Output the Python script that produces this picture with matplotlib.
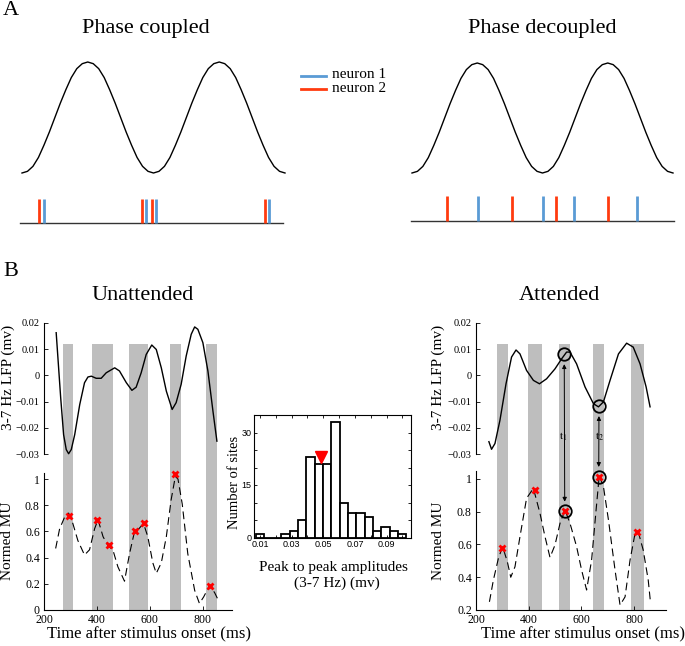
import matplotlib.pyplot as plt
from matplotlib.lines import Line2D
import numpy as np

plt.rcParams['font.family'] = ['Liberation Serif', 'DejaVu Serif']
plt.rcParams['mathtext.fontset'] = 'stix'

W, H = 685, 646
RED = '#FF3B0F'
BLUE = '#5A9BD5'
GREY = '#BEBEBE'

# ---- panel A: schematic oscillation, one trough-to-trough cycle (normalised)
wave_cycle = [0, 0.015, 0.06, 0.14, 0.25, 0.37, 0.50, 0.63, 0.75, 0.86, 0.94, 0.985, 1.0,
              0.985, 0.94, 0.86, 0.75, 0.63, 0.50, 0.37, 0.25, 0.14, 0.06, 0.015]
wave = wave_cycle + wave_cycle + [0]
wave_t = np.linspace(0, 500, len(wave))

# spike times (ms)
coupled_n1 = [46, 240, 259, 473]
coupled_n2 = [36, 232, 251, 466]
decoupled_n1 = [127, 251, 310, 430]
decoupled_n2 = [68, 192, 276, 375]

# ---- panel B: unattended
u_lfp_t = [246, 263, 274, 284, 293, 303, 316, 335, 353, 366, 379, 397, 416, 435, 467, 485,
           511, 532, 548, 567, 586, 607, 624, 643, 662, 684, 699, 718, 737, 756, 769, 781,
           800, 819, 838, 853]
u_lfp_v = [0.0163, -0.0085, -0.0226, -0.0283, -0.0299, -0.0283, -0.0226, -0.0111, -0.0028,
           -0.0006, -0.0003, -0.0011, -0.0011, 0.0010, 0.0029, 0.0017, -0.0028, -0.0057,
           -0.0045, 0.0010, 0.0080, 0.0116, 0.0099, 0.0029, -0.0060, -0.0130, -0.0104,
           -0.0034, 0.0074, 0.0157, 0.0185, 0.0176, 0.0125, 0.0017, -0.0136, -0.0251]
u_mu_t = [244, 259, 278, 293, 309, 328, 353, 372, 391, 404, 423, 442, 460, 479, 504, 523,
          542, 558, 576, 592, 611, 624, 643, 662, 680, 696, 706, 722, 743, 769, 787, 803,
          826, 845, 857]
u_mu_v = [0.47, 0.62, 0.71, 0.74, 0.66, 0.53, 0.42, 0.46, 0.62, 0.69, 0.56, 0.49, 0.46,
          0.33, 0.22, 0.43, 0.60, 0.62, 0.66, 0.56, 0.36, 0.28, 0.36, 0.56, 0.84, 1.02,
          1.00, 0.81, 0.43, 0.15, 0.05, 0.10, 0.19, 0.13, 0.08]
u_peak_t = [293, 400, 444, 542, 576, 696, 828]
u_peak_v = [0.72, 0.687, 0.496, 0.606, 0.667, 1.04, 0.183]
u_bars = [(272, 311), (382, 460), (521, 593), (675, 716), (810, 853)]

# ---- panel B: attended
a_lfp_t = [249, 259, 272, 291, 314, 335, 352, 367, 392, 418, 441, 468, 500, 525, 544, 557,
           582, 614, 646, 665, 684, 709, 741, 772, 797, 823, 846, 861]
a_lfp_v = [-0.0253, -0.0282, -0.0260, -0.0171, -0.0032, 0.0070, 0.0097, 0.0082, 0.0019,
           -0.0019, -0.0032, -0.0013, 0.0025, 0.0063, 0.0089, 0.0089, 0.0044, -0.0044,
           -0.0108, -0.0120, -0.0101, -0.0019, 0.0082, 0.0123, 0.0108, 0.0044, -0.0044,
           -0.0120]
a_mu_t = [251, 266, 285, 301, 319, 332, 348, 367, 392, 418, 443, 462, 481, 500, 519, 538,
          557, 582, 601, 620, 639, 656, 668, 684, 703, 728, 747, 766, 785, 804, 816, 835,
          854, 863]
a_mu_v = [0.25, 0.383, 0.515, 0.587, 0.495, 0.40, 0.464, 0.648, 0.882, 0.943, 0.79, 0.648,
          0.521, 0.597, 0.729, 0.81, 0.729, 0.587, 0.444, 0.322, 0.505, 0.81, 1.02, 0.953,
          0.75, 0.444, 0.23, 0.28, 0.505, 0.668, 0.678, 0.566, 0.383, 0.24]
a_peak_t = [299, 423, 537, 666, 810]
a_peak_v = [0.576, 0.933, 0.802, 1.014, 0.678]
a_bars = [(278, 322), (399, 449), (515, 557), (644, 687), (790, 839)]
a_lfp_circ_t = [535, 667]
a_lfp_circ_v = [0.008, -0.0118]

lfp_ticks = [-0.03, -0.02, -0.01, 0, 0.01, 0.02]
lfp_ticklabels = ['\u22120.03', '\u22120.02', '\u22120.01', '0', '0.01', '0.02']
time_ticks = [200, 400, 600, 800]
u_mu_ticks = [0, 0.2, 0.4, 0.6, 0.8, 1]
u_mu_ticklabels = ['0', '0.2', '0.4', '0.6', '0.8', '1']
a_mu_ticks = [0.2, 0.4, 0.6, 0.8, 1]
a_mu_ticklabels = ['0.2', '0.4', '0.6', '0.8', '1']

# ---- inset histogram
hist_centers = [0.0101, 0.0154, 0.0207, 0.0260, 0.0313, 0.0365, 0.0418, 0.0471, 0.0524,
                0.0577, 0.0629, 0.0682, 0.0735, 0.0788, 0.0841, 0.0893, 0.0946, 0.0999]
hist_counts = [1, 0, 0, 1, 2, 5, 23, 21, 21, 33, 10, 7, 7, 6, 2, 3, 2, 1]
hist_median = 0.0483
hist_xticks = [0.01, 0.02, 0.03, 0.04, 0.05, 0.06, 0.07, 0.08, 0.09, 0.10]
hist_xticklabels = ['0.01', '', '0.03', '', '0.05', '', '0.07', '', '0.09', '']
hist_yticks = [0, 5, 10, 15, 20, 25, 30]
hist_yticklabels = ['0', '', '', '15', '', '', '30']


fig = plt.figure(figsize=(W / 100, H / 100), dpi=100)


def px_axes(l, t, r, b):
    return fig.add_axes([l / W, 1 - b / H, (r - l) / W, (b - t) / H])


def ftext(x, y, s, **kw):
    return fig.text(x / W, 1 - y / H, s, **kw)


def wave_panel(box, raster_box, n1, n2):
    ax = px_axes(*box)
    ax.plot(wave_t, wave, color='k', lw=1, clip_on=False)
    ax.set_xlim(0, 500)
    ax.set_ylim(0, 1)
    ax.axis('off')
    ar = px_axes(*raster_box)
    ar.axhline(0, color='#333333', lw=1, clip_on=False)
    ar.vlines(n2, 0, 1, colors=RED, lw=2, clip_on=False)
    ar.vlines(n1, 0, 1, colors=BLUE, lw=2, clip_on=False)
    ar.set_xlim(0, 500)
    ar.set_ylim(0, 1)
    ar.axis('off')


wave_panel((22, 62, 285, 173), (20, 199, 283, 223), coupled_n1, coupled_n2)
wave_panel((412, 63, 673, 173), (411, 196, 674, 221), decoupled_n1, decoupled_n2)

ftext(3, 1, 'A', fontsize=16, va='top')
ftext(146, 28, 'Phase coupled', fontsize=16, ha='center', va='center')
ftext(542, 28, 'Phase decoupled', fontsize=16, ha='center', va='center')
fig.add_artist(Line2D([301 / W, 326 / W], [1 - 76 / H] * 2, color=BLUE, lw=2))
fig.add_artist(Line2D([301 / W, 326 / W], [1 - 89 / H] * 2, color=RED, lw=2))
ftext(332, 75, 'neuron 1', fontsize=11, va='center')
ftext(332, 88.5, 'neuron 2', fontsize=11, va='center')


def style_ax(ax, size):
    for s in ['top', 'right']:
        ax.spines[s].set_visible(False)
    ax.tick_params(direction='in', length=3, width=0.6, labelsize=size, pad=3)
    ax.set_facecolor('none')


def b_panel(x0, x1, xmax, bars, lfp_t, lfp_v, mu_t, mu_v, pk_t, pk_v,
            mu_top, mu_ylim, mu_ticks, mu_labels):
    bg = px_axes(x0, 344, x1, 610)
    for a, b in bars:
        bg.axvspan(a, b, color=GREY, lw=0)
    bg.set_xlim(200, xmax)
    bg.axis('off')

    al = px_axes(x0, 323, x1, 454)
    al.plot(lfp_t, lfp_v, color='k', lw=1, clip_on=False)
    al.set_xlim(200, xmax)
    al.set_ylim(-0.03, 0.02)
    style_ax(al, 7.5)
    al.spines['bottom'].set_visible(False)
    al.set_xticks([])
    al.set_yticks(lfp_ticks)
    al.set_yticklabels(lfp_ticklabels)

    am = px_axes(x0, mu_top, x1, 610)
    am.plot(mu_t, mu_v, color='k', lw=0.8, dashes=(7, 4), clip_on=False)
    am.plot(pk_t, pk_v, 'x', color='red', ms=5, mew=2, clip_on=False)
    am.set_xlim(200, xmax)
    am.set_ylim(*mu_ylim)
    style_ax(am, 8.5)
    am.set_yticks(mu_ticks)
    am.set_yticklabels(mu_labels)
    am.set_xticks(time_ticks)
    am.set_xticklabels([str(t) for t in time_ticks])
    return al, am


b_panel(44, 232, 910, u_bars, u_lfp_t, u_lfp_v, u_mu_t, u_mu_v, u_peak_t, u_peak_v,
        472.5, (0, 1.05), u_mu_ticks, u_mu_ticklabels)
al, am = b_panel(476, 665.6, 920, a_bars, a_lfp_t, a_lfp_v, a_mu_t, a_mu_v, a_peak_t, a_peak_v,
                 470.8, (0.2, 1.05), a_mu_ticks, a_mu_ticklabels)

al.plot(a_lfp_circ_t, a_lfp_circ_v, 'o', mfc='none', mec='k', ms=9, mew=1.3, clip_on=False)
am.plot(a_peak_t[2:4], a_peak_v[2:4], 'o', mfc='none', mec='k', ms=9, mew=1.3, clip_on=False)
for i, j in [(0, 2), (1, 3)]:
    am.annotate('', xy=(a_peak_t[j], a_peak_v[j]), xycoords='data',
                xytext=(a_lfp_circ_t[i], a_lfp_circ_v[i]), textcoords=al.transData,
                arrowprops=dict(arrowstyle='<|-|>', color='k', lw=0.7, shrinkA=7, shrinkB=7,
                                mutation_scale=6))
ftext(563, 437, r'$\mathrm{t}_1$', fontsize=8, ha='center', va='center')
ftext(599, 437, r'$\mathrm{t}_2$', fontsize=8, ha='center', va='center')

ftext(3, 272, 'B', fontsize=16, va='center')
ftext(143, 296, 'Unattended', fontsize=16, ha='center', va='center')
ftext(559, 296, 'Attended', fontsize=16, ha='center', va='center')
for x in [8, 438]:
    ftext(x, 377, '3-7 Hz LFP (mv)', fontsize=11, rotation=90, ha='center', va='center')
    ftext(x, 541, 'Normed MU', fontsize=11, rotation=90, ha='center', va='center')
ftext(149, 633, 'Time after stimulus onset (ms)', fontsize=12, ha='center', va='center')
ftext(583, 633, 'Time after stimulus onset (ms)', fontsize=12, ha='center', va='center')

# inset histogram
ah = px_axes(254, 415, 411, 537.5)
ah.bar(hist_centers, hist_counts, width=0.00528, color='white', edgecolor='k', lw=1.3)
ah.plot(hist_median, 22.9, 'v', color='red', ms=8)
ah.set_xlim(0.0062, 0.1054)
ah.set_ylim(0, 35)
ah.set_xticks(hist_xticks)
ah.set_xticklabels(hist_xticklabels)
ah.set_yticks(hist_yticks)
ah.set_yticklabels(hist_yticklabels)
ah.tick_params(direction='in', length=2.5, width=0.6, labelsize=6.5, top=True, right=True, pad=2)
for lab in ah.get_xticklabels() + ah.get_yticklabels():
    lab.set_family(['Liberation Sans', 'DejaVu Sans'])
for s in ah.spines.values():
    s.set_linewidth(0.8)
ftext(234, 482, 'Number of sites', fontsize=10.5, rotation=90, ha='center', va='center')
ftext(333, 567, 'Peak to peak amplitudes', fontsize=11, ha='center', va='center')
ftext(337, 583, '(3-7 Hz) (mv)', fontsize=11, ha='center', va='center')

fig.savefig('out.png', dpi=100)
